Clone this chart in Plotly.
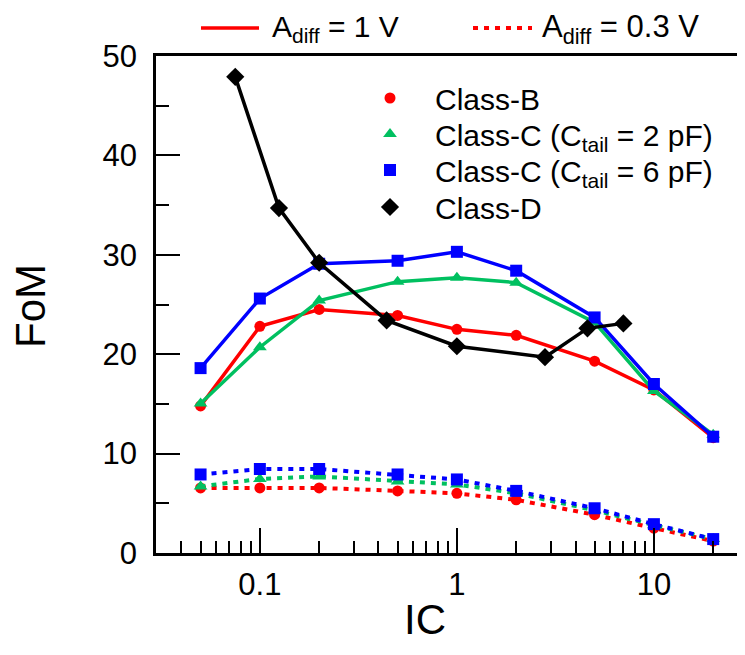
import plotly.graph_objects as go
import math

# ---------------- data ----------------
ic = [0.05, 0.1, 0.2, 0.5, 1, 2, 5, 10, 20]
classB_1V = [14.8, 22.8, 24.5, 23.9, 22.5, 21.9, 19.3, 16.4, 11.6]
classC2_1V = [15.05, 20.7, 25.4, 27.3, 27.7, 27.2, 23.2, 16.3, 11.9]
classC6_1V = [18.6, 25.6, 29.1, 29.4, 30.3, 28.4, 23.7, 17.0, 11.7]
classD_ic = [0.075, 0.125, 0.2, 0.44, 1, 2.8, 4.6, 7.0]
classD_1V = [47.9, 34.7, 29.2, 23.4, 20.8, 19.7, 22.6, 23.1]
classB_03V = [6.55, 6.55, 6.55, 6.25, 6.0, 5.35, 3.85, 2.5, 1.2]
classC2_03V = [6.7, 7.45, 7.7, 7.2, 6.9, 6.0, 4.3, 2.8, 1.4]
classC6_03V = [7.9, 8.45, 8.45, 7.9, 7.4, 6.25, 4.5, 2.9, 1.4]

series_names = ["Class-B", "Class-C (C<sub>tail</sub> = 2 pF)",
                "Class-C (C<sub>tail</sub> = 6 pF)", "Class-D"]
x_major = [0.1, 1, 10]
x_major_labels = ["0.1", "1", "10"]
x_minor = [0.04, 0.05, 0.06, 0.07, 0.08, 0.09,
           0.2, 0.3, 0.4, 0.5, 0.6, 0.7, 0.8, 0.9,
           2, 3, 4, 5, 6, 7, 8, 9, 20, 30]
y_major = [0, 10, 20, 30, 40, 50]
y_minor = [5, 15, 25, 35, 45]

RED, GREEN, BLUE, BLACK = "#FF0000", "#00C060", "#0000FF", "#000000"
FONT = "Liberation Sans, Arial, sans-serif"

# page has an 8px body margin; figure sized to fill the window
OFF = 8
W, H = 745 - OFF, 655 - OFF
ML, MT = 156 - OFF, 56 - OFF
MR = 0
MB = H - (553 - OFF)
PW, PH = W - ML - MR, H - MT - MB


def px(x):  # screen pixel -> paper x
    return (x - OFF - ML) / PW


def py(y):  # screen pixel -> paper y
    return (H - MB - (y - OFF)) / PH


fig = go.Figure()

styles = [
    (classB_03V, ic, RED, "circle", 11),
    (classC2_03V, ic, GREEN, "triangle-up", 12),
    (classC6_03V, ic, BLUE, "square", 12),
]
for yv, xv, col, sym, sz in styles:
    fig.add_trace(go.Scatter(x=xv, y=yv, mode="lines+markers", showlegend=False,
                             line=dict(color=col, width=4, dash="5px,6px"),
                             marker=dict(color=col, symbol=sym, size=sz)))

styles = [
    (classB_1V, ic, RED, "circle", 11),
    (classC2_1V, ic, GREEN, "triangle-up", 12),
    (classC6_1V, ic, BLUE, "square", 12),
    (classD_1V, classD_ic, BLACK, "diamond", 14),
]
for yv, xv, col, sym, sz in styles:
    fig.add_trace(go.Scatter(x=xv, y=yv, mode="lines+markers", showlegend=False,
                             line=dict(color=col, width=3.5),
                             marker=dict(color=col, symbol=sym, size=sz)))

# legend entries (marker only), one legend box per row
legend_ids = ["legend", "legend2", "legend3", "legend4"]
row_y = [98, 134, 170, 207]
for name, col, sym, sz, lid in zip(series_names, [RED, GREEN, BLUE, BLACK],
                                   ["circle", "triangle-up", "square", "diamond"],
                                   [11, 12, 12, 14], legend_ids):
    fig.add_trace(go.Scatter(x=[None], y=[None], mode="markers", name=name,
                             legend=lid,
                             marker=dict(color=col, symbol=sym, size=sz)))

legend_layout = {}
for lid, ry in zip(legend_ids, row_y):
    legend_layout[lid] = dict(x=px(345), y=py(ry), xanchor="left", yanchor="middle",
                              bgcolor="rgba(0,0,0,0)",
                              font=dict(size=30, family=FONT, color="black"),
                              itemwidth=80)

# top legend: line samples drawn as shapes
shapes = [
    dict(type="line", xref="paper", yref="paper", x0=px(201), x1=px(259),
         y0=py(28), y1=py(28), line=dict(color=RED, width=3.5)),
    dict(type="line", xref="paper", yref="paper", x0=px(473), x1=px(532),
         y0=py(28), y1=py(28), line=dict(color=RED, width=4, dash="5px,6px")),
]
annotations = [
    dict(text="A<sub>diff</sub> = 1 V", xref="paper", yref="paper",
         x=px(270), y=py(29), xanchor="left", yanchor="middle", showarrow=False,
         font=dict(size=30, family=FONT, color="black")),
    dict(text="A<sub>diff</sub> = 0.3 V", xref="paper", yref="paper",
         x=px(540), y=py(29), xanchor="left", yanchor="middle", showarrow=False,
         font=dict(size=31, family=FONT, color="black")),
    dict(text="FoM", xref="paper", yref="paper", x=px(30), y=py(306),
         xanchor="center", yanchor="middle", textangle=-90, showarrow=False,
         font=dict(size=42, family=FONT, color="black")),
    dict(text="IC", xref="paper", yref="paper", x=px(425), y=py(620),
         xanchor="center", yanchor="middle", showarrow=False,
         font=dict(size=42, family=FONT, color="black")),
]

fig.update_layout(
    width=W, height=H,
    margin=dict(l=ML, r=MR, t=MT, b=MB, pad=0),
    paper_bgcolor="white", plot_bgcolor="white",
    font=dict(family=FONT, color="black", size=30),
    shapes=shapes, annotations=annotations,
    **legend_layout,
)

fig.update_xaxes(
    type="log", range=[math.log10(0.0297), math.log10(29)],
    showline=True, linecolor="black", linewidth=2.5, mirror=True,
    showgrid=False, zeroline=False,
    tickmode="array", tickvals=x_major, ticktext=x_major_labels,
    ticks="inside", ticklen=25, tickwidth=2, tickcolor="black",
    ticklabelstandoff=2,
    tickfont=dict(size=31, family=FONT),
    minor=dict(tickmode="array", tickvals=x_minor, ticks="inside",
               ticklen=12, tickwidth=2, tickcolor="black", showgrid=False),
)
fig.update_yaxes(
    range=[0, 50], showline=True, linecolor="black", linewidth=2.5,
    showgrid=False, zeroline=False,
    tickmode="array", tickvals=y_major,
    ticks="inside", ticklen=24, tickwidth=2, tickcolor="black",
    ticklabelstandoff=10,
    tickfont=dict(size=31, family=FONT),
    minor=dict(tickmode="array", tickvals=y_minor, ticks="inside",
               ticklen=13, tickwidth=2, tickcolor="black", showgrid=False),
)

fig.write_html("out.html")
